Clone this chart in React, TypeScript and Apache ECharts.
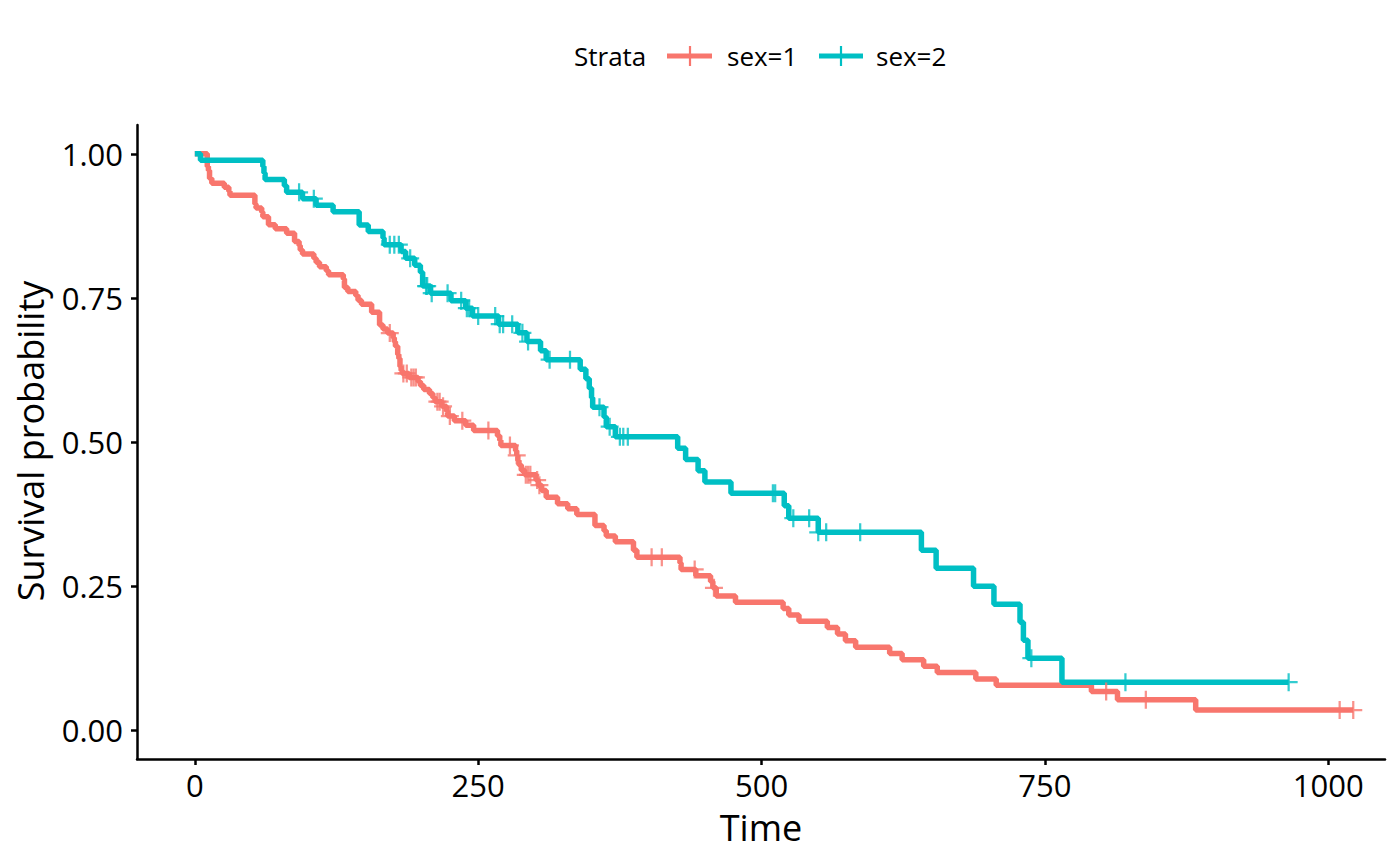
import React, { useEffect, useRef } from "react";
import * as echarts from "echarts";

// ---- Data (Kaplan-Meier steps) ----
const sex1Times = [0, 11, 12, 13, 15, 26, 30, 31, 53, 54, 59, 60, 65, 71, 81, 88, 92, 93, 95, 105, 107, 110, 116, 118, 131, 132, 135, 142, 144, 147, 156, 163, 166, 170, 175, 176, 177, 179, 180, 181, 182, 183, 189, 197, 199, 202, 207, 210, 212, 218, 222, 223, 229, 239, 246, 267, 269, 270, 283, 284, 285, 286, 288, 291, 301, 303, 306, 310, 320, 329, 337, 353, 361, 363, 371, 387, 390, 428, 429, 442, 455, 457, 460, 477, 519, 524, 533, 558, 567, 574, 583, 613, 624, 643, 655, 689, 707, 791, 814, 883, 1022];
const sex1Surv = [1, 0.978, 0.971, 0.957, 0.949, 0.942, 0.935, 0.928, 0.913, 0.906, 0.899, 0.891, 0.877, 0.87, 0.862, 0.848, 0.841, 0.833, 0.826, 0.819, 0.812, 0.804, 0.797, 0.79, 0.783, 0.768, 0.761, 0.754, 0.746, 0.739, 0.725, 0.703, 0.696, 0.689, 0.681, 0.674, 0.666, 0.652, 0.645, 0.631, 0.624, 0.619, 0.612, 0.605, 0.598, 0.591, 0.584, 0.577, 0.57, 0.562, 0.554, 0.545, 0.537, 0.529, 0.52, 0.511, 0.503, 0.494, 0.485, 0.477, 0.468, 0.46, 0.451, 0.443, 0.434, 0.425, 0.416, 0.404, 0.393, 0.384, 0.374, 0.355, 0.346, 0.337, 0.327, 0.312, 0.3, 0.29, 0.279, 0.268, 0.258, 0.247, 0.233, 0.222, 0.211, 0.2, 0.189, 0.178, 0.167, 0.155, 0.144, 0.133, 0.122, 0.111, 0.1, 0.089, 0.078, 0.067, 0.053, 0.035, 0.035];
const sex1Censor = [172, 184, 187, 191, 193, 195, 214, 216, 219, 225, 236, 259, 278, 284, 292, 294, 296, 302, 304, 403, 412, 441, 458, 804, 839, 1010, 1022];

const sex2Times = [0, 5, 60, 61, 62, 79, 81, 95, 107, 122, 145, 153, 166, 167, 182, 186, 194, 199, 201, 208, 226, 239, 245, 268, 285, 293, 305, 310, 340, 345, 348, 350, 351, 361, 363, 371, 426, 433, 444, 450, 473, 520, 524, 550, 641, 654, 687, 705, 728, 731, 735, 765, 965];
const sex2Surv = [1, 0.9889, 0.9778, 0.9667, 0.9556, 0.9444, 0.9333, 0.9221, 0.9107, 0.8993, 0.8766, 0.8652, 0.8538, 0.8424, 0.8305, 0.8187, 0.8066, 0.7946, 0.7705, 0.7581, 0.7452, 0.7322, 0.7186, 0.7045, 0.6895, 0.6742, 0.6585, 0.6428, 0.6264, 0.6099, 0.5934, 0.5769, 0.5604, 0.5434, 0.5265, 0.5089, 0.4893, 0.4698, 0.4502, 0.4306, 0.411, 0.3894, 0.3678, 0.3433, 0.3121, 0.2809, 0.2497, 0.2185, 0.1873, 0.1561, 0.1249, 0.0832, 0.0832];
const sex2Censor = [92, 105, 172, 176, 180, 190, 204, 205, 209, 223, 235, 240, 242, 250, 265, 269, 272, 280, 289, 294, 313, 331, 357, 366, 375, 378, 382, 510, 512, 528, 542, 550, 557, 587, 738, 821, 965];

const xTicks = [0, 250, 500, 750, 1000];
const yTicks = [0, 0.25, 0.5, 0.75, 1];

const RED = "#F8766D";
const TEAL = "#00BFC4";
const FONT = "Open Sans";
const PLUS = "path://M7,0h2v16h-2zM0,7h16v2h-16z";

// value of the step curve at time t (last step at or before t)
function stepAt(times: number[], surv: number[], t: number): number {
  let v = surv[0];
  for (let i = 0; i < times.length; i++) {
    if (times[i] <= t) v = surv[i];
    else break;
  }
  return v;
}

export default function App() {
  const ref = useRef<HTMLDivElement>(null);

  useEffect(() => {
    if (!ref.current) return;
    const chart = echarts.init(ref.current, undefined, { renderer: "svg" });

    const line1 = sex1Times.map((t, i) => [t, sex1Surv[i]]);
    const line2 = sex2Times.map((t, i) => [t, sex2Surv[i]]);
    const cens1 = sex1Censor.map((t) => [t, stepAt(sex1Times, sex1Surv, t)]);
    const cens2 = sex2Censor.map((t) => [t, stepAt(sex2Times, sex2Surv, t)]);

    const legendY = 56;
    const option: any = {
      animation: false,
      backgroundColor: "#ffffff",
      textStyle: { fontFamily: FONT },
      grid: { left: 137, right: 15, top: 125, bottom: 107, containLabel: false },
      xAxis: {
        type: "value",
        min: -51,
        max: 1050,
        axisLine: { show: true, onZero: false, lineStyle: { color: "#000", width: 2.5 } },
        axisTick: { show: true, length: 6, customValues: xTicks, lineStyle: { color: "#000", width: 2.5 } },
        axisLabel: {
          customValues: xTicks,
          fontSize: 31,
          color: "#000",
          fontFamily: FONT,
          margin: 10,
          formatter: (v: number) => String(v),
        },
        splitLine: { show: false },
      },
      yAxis: {
        type: "value",
        min: -0.05,
        max: 1.05,
        axisLine: { show: true, onZero: false, lineStyle: { color: "#000", width: 2.5 } },
        axisTick: { show: true, length: 6, customValues: yTicks, lineStyle: { color: "#000", width: 2.5 } },
        axisLabel: {
          customValues: yTicks,
          fontSize: 31,
          color: "#000",
          fontFamily: FONT,
          margin: 14,
          formatter: (v: number) => v.toFixed(2),
        },
        splitLine: { show: false },
      },
      series: [
        {
          name: "sex=1",
          type: "line",
          step: "end",
          data: line1,
          showSymbol: false,
          symbol: "none",
          lineStyle: { color: RED, width: 5.5 },
          z: 2,
        },
        {
          name: "sex=2",
          type: "line",
          step: "end",
          data: line2,
          showSymbol: false,
          symbol: "none",
          lineStyle: { color: TEAL, width: 5.5 },
          z: 2,
        },
        {
          name: "sex=1 censor",
          type: "scatter",
          data: cens1,
          symbol: PLUS,
          symbolSize: 18,
          itemStyle: { color: RED },
          z: 3,
        },
        {
          name: "sex=2 censor",
          type: "scatter",
          data: cens2,
          symbol: PLUS,
          symbolSize: 18,
          itemStyle: { color: TEAL },
          z: 3,
        },
      ],
      graphic: [
        {
          type: "text",
          x: 30,
          y: 441,
          rotation: Math.PI / 2,
          style: {
            text: "Survival probability",
            fontSize: 36,
            fontFamily: FONT,
            fill: "#000",
            align: "center",
            verticalAlign: "middle",
          },
        },
        {
          type: "text",
          x: 761,
          y: 827,
          style: {
            text: "Time",
            fontSize: 36,
            fontFamily: FONT,
            fill: "#000",
            align: "center",
            verticalAlign: "middle",
          },
        },
        {
          type: "text",
          x: 574,
          y: legendY,
          style: { text: "Strata", fontSize: 26, fontFamily: FONT, fill: "#000", align: "left", verticalAlign: "middle" },
        },
        { type: "line", shape: { x1: 667, y1: legendY, x2: 712, y2: legendY }, style: { stroke: RED, lineWidth: 5 } },
        { type: "line", shape: { x1: 690, y1: legendY - 10, x2: 690, y2: legendY + 10 }, style: { stroke: RED, lineWidth: 2.2 } },
        {
          type: "text",
          x: 727,
          y: legendY,
          style: { text: "sex=1", fontSize: 26, fontFamily: FONT, fill: "#000", align: "left", verticalAlign: "middle" },
        },
        { type: "line", shape: { x1: 819, y1: legendY, x2: 863, y2: legendY }, style: { stroke: TEAL, lineWidth: 5 } },
        { type: "line", shape: { x1: 841, y1: legendY - 10, x2: 841, y2: legendY + 10 }, style: { stroke: TEAL, lineWidth: 2.2 } },
        {
          type: "text",
          x: 876,
          y: legendY,
          style: { text: "sex=2", fontSize: 26, fontFamily: FONT, fill: "#000", align: "left", verticalAlign: "middle" },
        },
      ],
    };

    chart.setOption(option);
    return () => {
      chart.dispose();
    };
  }, []);

  return (
    <div
      ref={ref}
      style={{ position: "fixed", left: 0, top: 0, width: 1400, height: 866, background: "#fff" }}
    />
  );
}
